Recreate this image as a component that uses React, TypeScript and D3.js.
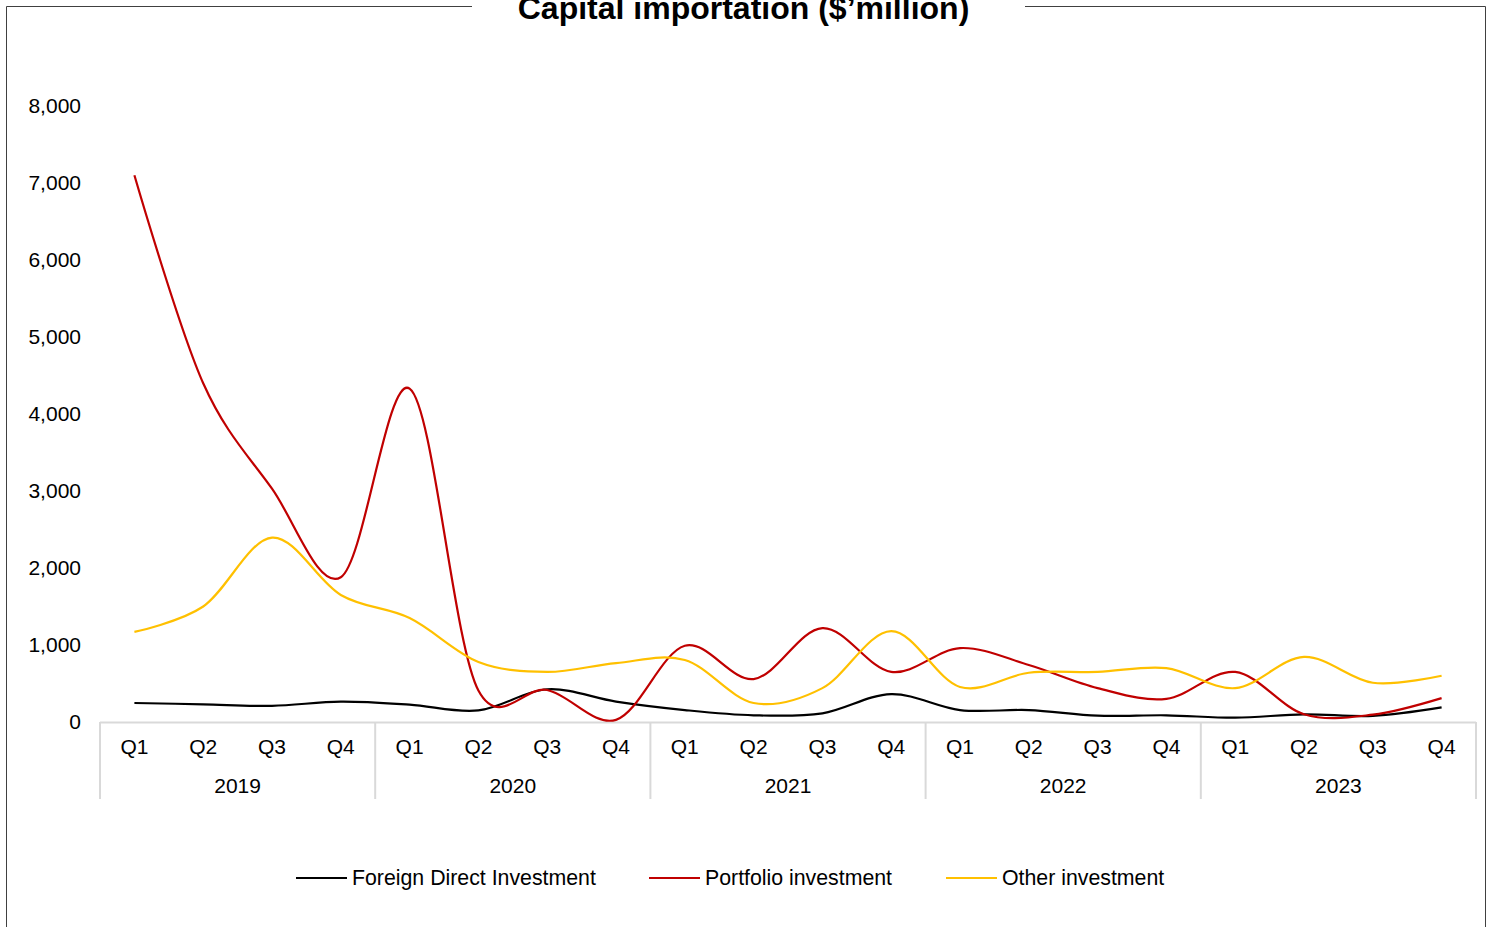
import React from "react";
import * as d3 from "d3";

const years = ["2019", "2020", "2021", "2022", "2023"];
const quarters = ["Q1", "Q2", "Q3", "Q4"];
const yTicks = [0, 1000, 2000, 3000, 4000, 5000, 6000, 7000, 8000];

const fdi = [247, 230, 210, 264, 225, 150, 425, 265, 155, 87, 113, 363, 155, 155, 82, 87, 56, 100, 80, 190];
const portfolio = [7100, 4400, 3030, 1880, 4330, 410, 415, 28, 990, 558, 1220, 650, 960, 740, 440, 300, 650, 100, 95, 310];
const other = [1170, 1500, 2395, 1650, 1350, 780, 650, 765, 805, 247, 440, 1180, 455, 640, 650, 700, 440, 845, 510, 600];

const seriesNames = ["Foreign Direct Investment", "Portfolio investment", "Other investment"];
const seriesColors = ["#000000", "#C00000", "#FFC000"];
const seriesData = [fdi, portfolio, other];

const W = 1489;
const H = 927;
const FONT = "'Liberation Sans', Arial, sans-serif";

export default function App() {
  const categories = years.flatMap((y) => quarters.map((q) => `${y}-${q}`));
  const x = d3.scaleBand().domain(categories).range([100, 1476]);
  const xc = (i: number) => (x(categories[i]) as number) + x.bandwidth() / 2;
  const y = d3.scaleLinear().domain([0, 8000]).range([722, 106]);
  const line = d3
    .line<number>()
    .x((_, i) => xc(i))
    .y((d) => y(d))
    .curve(d3.curveCatmullRom.alpha(0.1));

  const yearW = x.bandwidth() * 4;
  const legendX = [296, 649, 946];

  return (
    <svg width={W} height={H} style={{ position: "absolute", left: 0, top: 0, background: "#fff" }} fontFamily={FONT}>
      <rect x={0} y={0} width={W} height={H} fill="#fff" />
      {/* frame */}
      <path d={`M472,6.5 H6.5 V${H + 5}`} fill="none" stroke="#404040" strokeWidth={1} />
      <path d={`M1025,6.5 H1485.5 V${H + 5}`} fill="none" stroke="#404040" strokeWidth={1} />
      <text x={743.5} y={19} textAnchor="middle" fontSize={32} fontWeight="bold" fill="#000">
        Capital importation ($’million)
      </text>

      {/* y axis labels */}
      {yTicks.map((t) => (
        <text key={t} x={81} y={y(t)} dy="0.35em" textAnchor="end" fontSize={21} fill="#000">
          {d3.format(",")(t)}
        </text>
      ))}

      {/* category axis */}
      <line x1={100} x2={1476} y1={722.5} y2={722.5} stroke="#d9d9d9" strokeWidth={2} />
      {years.map((yr) => {
        const x0 = x(`${yr}-Q1`) as number;
        return (
          <g key={yr}>
            <line x1={x0} x2={x0} y1={722} y2={799} stroke="#d9d9d9" strokeWidth={2} />
            <text x={x0 + yearW / 2} y={786} dy="0.35em" textAnchor="middle" fontSize={21} fill="#000">
              {yr}
            </text>
          </g>
        );
      })}
      <line x1={1476} x2={1476} y1={722} y2={799} stroke="#d9d9d9" strokeWidth={2} />
      {categories.map((c, i) => (
        <text key={c} x={xc(i)} y={747} dy="0.35em" textAnchor="middle" fontSize={21} fill="#000">
          {c.split("-")[1]}
        </text>
      ))}

      {/* lines */}
      {seriesData.map((s, si) => (
        <path key={si} d={line(s) || ""} fill="none" stroke={seriesColors[si]} strokeWidth={2.2} strokeLinejoin="round" />
      ))}

      {/* legend */}
      {seriesNames.map((n, i) => (
        <g key={n}>
          <line x1={legendX[i]} x2={legendX[i] + 51} y1={878} y2={878} stroke={seriesColors[i]} strokeWidth={2.2} />
          <text x={legendX[i] + 56} y={878} dy="0.35em" fontSize={21.3} fill="#000">
            {n}
          </text>
        </g>
      ))}
    </svg>
  );
}
